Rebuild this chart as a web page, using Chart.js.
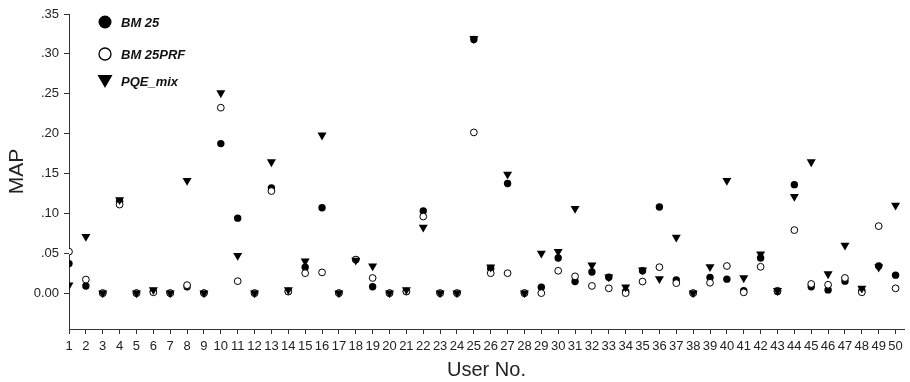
<!DOCTYPE html>
<html>
<head>
<meta charset="utf-8">
<script src="https://cdn.jsdelivr.net/npm/chart.js@4/dist/chart.umd.min.js"></script>
<style>
  body { margin: 0; background: #fff; }
  #wrap { width: 910px; height: 382px; }
</style>
</head>
<body>
<div id="wrap"><canvas id="mapChart" width="910" height="382"></canvas></div>
<script>
// users 1..50
const users = [];
for (let i = 1; i <= 50; i++) users.push(i);

const bm25 = [0.037, 0.009, 0.000, 0.115, 0.000, 0.002, 0.000, 0.008, 0.000, 0.1875,
              0.094, 0.000, 0.132, 0.002, 0.0325, 0.107, 0.000, 0.042, 0.008, 0.000,
              0.002, 0.103, 0.000, 0.000, 0.318, 0.031, 0.1375, 0.000, 0.0075, 0.044,
              0.0145, 0.0265, 0.020, 0.002, 0.028, 0.108, 0.0165, 0.000, 0.0195, 0.0175,
              0.003, 0.044, 0.002, 0.136, 0.008, 0.004, 0.015, 0.003, 0.034, 0.0225];

const bm25prf = [0.052, 0.017, 0.000, 0.111, 0.000, 0.001, 0.000, 0.010, 0.000, 0.2325,
                 0.015, 0.000, 0.128, 0.002, 0.025, 0.026, 0.000, 0.042, 0.019, 0.000,
                 0.002, 0.096, 0.000, 0.000, 0.2015, 0.025, 0.025, 0.000, 0.000, 0.028,
                 0.021, 0.009, 0.006, 0.000, 0.0145, 0.0325, 0.0125, 0.000, 0.013, 0.034,
                 0.001, 0.033, 0.003, 0.079, 0.0115, 0.0105, 0.019, 0.001, 0.084, 0.006];

const pqeMix = [0.010, 0.071, 0.000, 0.117, 0.000, 0.004, 0.000, 0.141, 0.000, 0.251,
                0.047, 0.000, 0.1645, 0.004, 0.040, 0.198, 0.000, 0.041, 0.034, 0.000,
                0.004, 0.0825, 0.000, 0.000, 0.319, 0.0325, 0.149, 0.000, 0.050, 0.052,
                0.106, 0.035, 0.020, 0.0075, 0.029, 0.018, 0.070, 0.000, 0.033, 0.141,
                0.019, 0.049, 0.003, 0.121, 0.1645, 0.024, 0.060, 0.006, 0.0325, 0.110];

const yTicks = [0, 0.05, 0.10, 0.15, 0.20, 0.25, 0.30, 0.35];

function pts(arr) {
  return arr.map((v, i) => ({ x: users[i], y: v }));
}

const FONT = "'Liberation Sans', Arial, Helvetica, sans-serif";
const INK = "#222";

// legend drawn inside the plot, top-left
const insideLegend = {
  id: 'insideLegend',
  afterDraw(chart) {
    const ctx = chart.ctx;
    const mx = 105, tx = 121;
    const rows = [
      { y: 22, text: 'BM 25', kind: 'dot' },
      { y: 54, text: 'BM 25PRF', kind: 'ring' },
      { y: 81, text: 'PQE_mix', kind: 'tri' }
    ];
    ctx.save();
    ctx.fillStyle = '#000';
    ctx.strokeStyle = '#000';
    ctx.font = "italic bold 13px " + FONT;
    ctx.textBaseline = 'middle';
    rows.forEach(r => {
      ctx.beginPath();
      if (r.kind === 'dot') {
        ctx.arc(mx, r.y, 6.5, 0, Math.PI * 2);
        ctx.fill();
      } else if (r.kind === 'ring') {
        ctx.lineWidth = 1.3;
        ctx.arc(mx, r.y, 6, 0, Math.PI * 2);
        ctx.fillStyle = '#fff';
        ctx.fill();
        ctx.stroke();
        ctx.fillStyle = '#000';
      } else {
        ctx.moveTo(mx - 7.5, r.y - 6);
        ctx.lineTo(mx + 7.5, r.y - 6);
        ctx.lineTo(mx, r.y + 7);
        ctx.closePath();
        ctx.fill();
      }
      ctx.fillStyle = '#111';
      ctx.fillText(r.text, tx, r.y + 1);
      ctx.fillStyle = '#000';
    });
    ctx.restore();
  }
};

const CHART = document.getElementById("mapChart");
let mapChart = new Chart(CHART, {
  type: 'scatter',
  data: {
    datasets: [
      {
        label: 'PQE_mix',
        data: pts(pqeMix),
        pointStyle: 'triangle',
        rotation: 180,
        radius: 5.2,
        backgroundColor: '#000',
        borderColor: '#000',
        borderWidth: 0
      },
      {
        label: 'BM 25PRF',
        data: pts(bm25prf),
        pointStyle: 'circle',
        radius: 3.4,
        backgroundColor: '#fff',
        borderColor: '#000',
        borderWidth: 1
      },
      {
        label: 'BM 25',
        data: pts(bm25),
        pointStyle: 'circle',
        radius: 3.7,
        backgroundColor: '#000',
        borderColor: '#000',
        borderWidth: 0
      }
    ]
  },
  options: {
    responsive: false,
    animation: false,
    events: [],
    layout: { padding: { left: 0, right: 6, top: 14, bottom: 0 } },
    plugins: {
      legend: { display: false },
      tooltip: { enabled: false }
    },
    scales: {
      x: {
        type: 'linear',
        min: 1,
        max: 50.5,
        afterBuildTicks: (scale) => { scale.ticks = users.map(v => ({ value: v })); },
        afterFit: (scale) => { scale.height = 53; },
        grid: { drawOnChartArea: false, drawTicks: true, tickLength: 5, tickColor: '#333' },
        border: { display: true, color: '#333', width: 1 },
        ticks: {
          autoSkip: false,
          maxRotation: 0,
          padding: 5,
          color: INK,
          font: { family: FONT, size: 13 },
          callback: (v) => String(v)
        },
        title: {
          display: true,
          text: 'User No.',
          color: INK,
          font: { family: FONT, size: 20 },
          padding: { top: 0, bottom: 0 }
        }
      },
      y: {
        min: -0.045,
        max: 0.35,
        afterBuildTicks: (scale) => { scale.ticks = yTicks.map(v => ({ value: v })); },
        afterFit: (scale) => { scale.width = 69; },
        grid: { drawOnChartArea: false, drawTicks: true, tickLength: 5, tickColor: '#333' },
        border: { display: true, color: '#333', width: 1 },
        ticks: {
          padding: 5,
          color: INK,
          font: { family: FONT, size: 13 },
          callback: (v) => {
            if (Math.abs(v) < 1e-9) return '0.00';
            return '.' + String(Math.round(v * 100)).padStart(2, '0');
          }
        },
        title: {
          display: true,
          text: 'MAP',
          color: INK,
          font: { family: FONT, size: 21 },
          padding: { top: 5, bottom: 0 }
        }
      }
    }
  },
  plugins: [insideLegend]
});
</script>
</body>
</html>
